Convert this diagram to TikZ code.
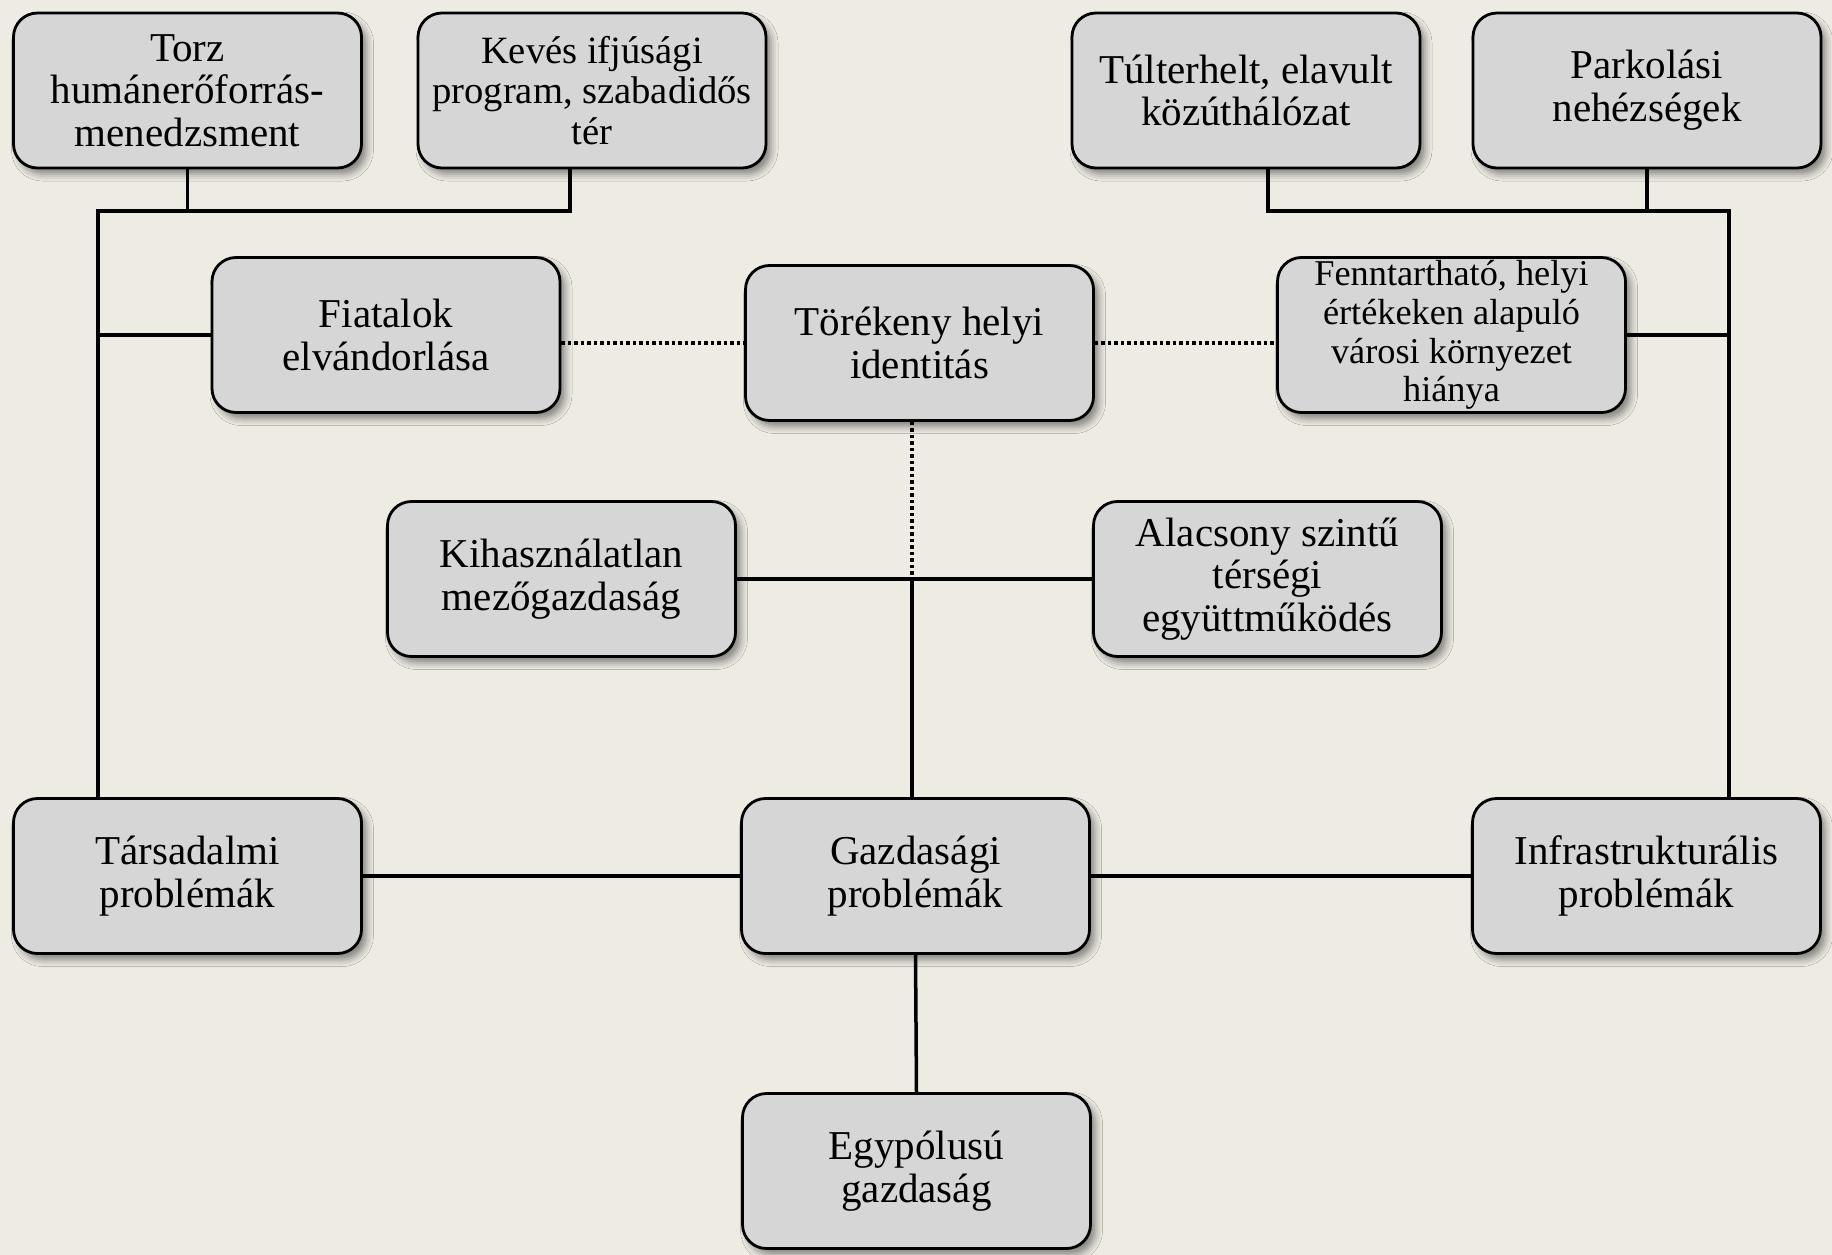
\documentclass[tikz,border=0pt]{standalone}
\usepackage{fontspec}
\setmainfont{Liberation Serif}
\usetikzlibrary{shadows.blur,calc}
\definecolor{bgc}{RGB}{238,235,227}
\definecolor{boxc}{RGB}{214,214,214}
\tikzset{
  pbox/.style={draw=black, line width=2.8pt, fill=boxc, rounded corners=24pt,
    minimum width=348pt, minimum height=155pt, align=center, inner sep=2pt,
    font=\fontsize{41}{42.7}\selectfont,
    blur shadow={shadow xshift=5pt, shadow yshift=-6pt, shadow blur radius=7pt, shadow opacity=45}},
  conn/.style={line width=3.5pt, draw=black},
  dotconn/.style={line width=3.5pt, draw=black, dash pattern=on 3.5pt off 3pt},
}
\begin{document}
\begin{tikzpicture}[x=1pt,y=-1pt]
\fill[bgc] (0,0) rectangle (1832,1255);
\useasboundingbox (0,0) rectangle (1832,1255);

\node[pbox] (torz) at (187.5,90.5) {Torz\\humánerőforrás-\\menedzsment};
\node[pbox, font=\fontsize{38.6}{40.3}\selectfont] (keves) at (592,90.5) {Kevés ifjúsági\\program, szabadidős\\tér};
\node[pbox] (tul) at (1246,90.5) {Túlterhelt, elavult\\közúthálózat};
\node[pbox] (park) at (1647,90.5) {Parkolási\\nehézségek};
\node[pbox] (fiat) at (386,335) {Fiatalok\\elvándorlása};
\node[pbox] (tore) at (919.5,343) {Törékeny helyi\\identitás};
\node[pbox, font=\fontsize{36.3}{38.6}\selectfont] (fenn) at (1451.5,335) {Fenntartható, helyi\\értékeken alapuló\\városi környezet\\hiánya};
\node[pbox] (kih) at (561.5,579) {Kihasználatlan\\mezőgazdaság};
\node[pbox] (alac) at (1267.5,579) {Alacsony szintű\\térségi\\együttműködés};
\node[pbox] (tars) at (187.5,876) {Társadalmi\\problémák};
\node[pbox] (gazd) at (915.5,876) {Gazdasági\\problémák};
\node[pbox] (infra) at (1646.5,876) {Infrastrukturális\\problémák};
\node[pbox] (egy) at (916.5,1171) {Egypólusú\\gazdaság};

% left tree
\coordinate (lt) at (98,211);
\coordinate (tz) at (187.5,211);
\coordinate (kv) at (570,211);
\draw[conn] (torz.south) -- (tz);
\draw[conn] (kv |- keves.south) -- (kv) -- (lt) -- (lt |- tars.north);
\draw[conn] (fiat.west) -- (fiat.west -| lt);

% right tree
\coordinate (rt) at (1729,211);
\coordinate (tl) at (1268,211);
\coordinate (pk) at (1647,211);
\draw[conn] (tl |- tul.south) -- (tl) -- (rt) -- (rt |- infra.north);
\draw[conn] (park.south) -- (pk);
\draw[conn] (fenn.east) -- (fenn.east -| rt);

% dotted links
\draw[dotconn] (tore.west -| fiat.east) -- (tore.west);
\draw[dotconn] (tore.east) -- (tore.east -| fenn.west);
\coordinate (mid) at (912,579);
\draw[dotconn] (mid |- tore.south) -- (mid);
\draw[conn] (mid) -- (mid |- gazd.north);
\draw[conn] (kih.east) -- (alac.west);

% bottom
\draw[conn] (tars.east) -- (gazd.west);
\draw[conn] (gazd.east) -- (infra.west);
\draw[conn] (gazd.south) -- (egy.north);
\end{tikzpicture}
\end{document}
